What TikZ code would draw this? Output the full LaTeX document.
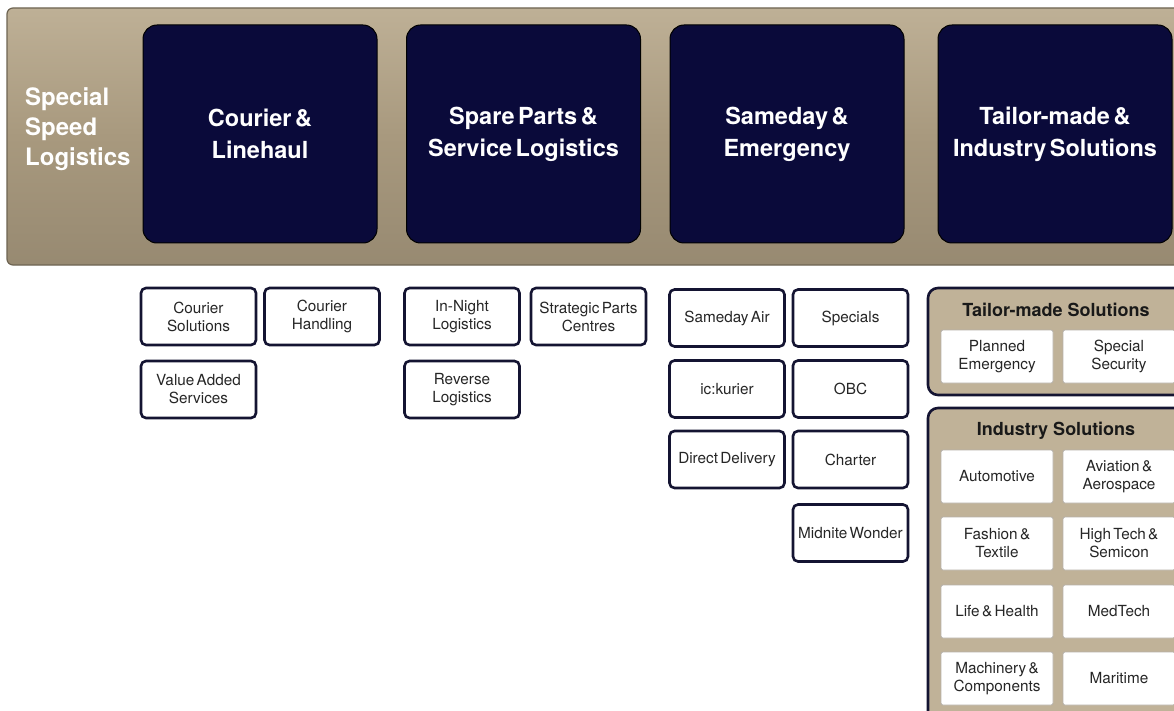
\documentclass[tikz,border=0pt]{standalone}
\usepackage{fontspec}
\setmainfont{TeX Gyre Heros}
\newfontfamily\tightfont[WordSpace=0.55]{TeX Gyre Heros}
\definecolor{tan}{RGB}{168,153,126}
\definecolor{tanlight}{RGB}{190,176,150}
\definecolor{tandark}{RGB}{110,100,82}
\definecolor{navy}{RGB}{10,10,58}
\definecolor{navyline}{RGB}{20,20,50}
\definecolor{grptan}{RGB}{192,178,152}
\begin{document}
\begin{tikzpicture}[x=1pt,y=-1pt,
  banner/.style={draw=tandark,line width=1.2pt,rounded corners=6pt,top color=tanlight,bottom color=tan!90!black,middle color=tan},
  bigbox/.style={draw=black,line width=1pt,fill=navy,rounded corners=14pt,minimum width=234pt,minimum height=218pt,
     text=white,font=\tightfont\bfseries\fontsize{23.5}{32}\selectfont,align=center,inner sep=0pt},
  smallbox/.style={draw=navyline,line width=2.6pt,fill=white,rounded corners=5pt,minimum width=115pt,minimum height=57pt,
     text=black!85,font=\tightfont\fontsize{15.3}{18}\selectfont,align=center,inner sep=0pt},
  grp/.style={draw=navyline,line width=2.6pt,fill=grptan,rounded corners=10pt},
  grphead/.style={text=black!90,font=\bfseries\fontsize{18}{20}\selectfont,inner sep=0pt},
  inbox/.style={draw=tandark!50,line width=0.8pt,fill=white,rounded corners=2pt,minimum width=112pt,minimum height=53pt,
     text=black!85,font=\tightfont\fontsize{15.3}{18}\selectfont,align=center,inner sep=0pt},
  bigtext/.style={text=white,font=\bfseries\fontsize{24}{30}\selectfont,align=left,inner sep=0pt}
]
\useasboundingbox (0,0) rectangle (1174,711);
\clip (0,0) rectangle (1174,711);
\fill[white] (0,0) rectangle (1174,711);

% banner
\draw[banner] (7,8) rectangle (1200,265);
\node[bigtext,anchor=west] (ssl) at (25,129) {Special\\Speed\\Logistics};

\node[bigbox] (cl) at (260,134) {Courier \&\\Linehaul};
\node[bigbox] (sp) at (523.5,134) {Spare Parts \&\\Service Logistics};
\node[bigbox] (se) at (787,134) {Sameday \&\\Emergency};
\node[bigbox] (ti) at (1055,134) {Tailor-made \&\\Industry Solutions};

% courier column
\node[smallbox] (cs) at (198.5,316.5) {Courier\\Solutions};
\node[smallbox] (ch) at (322,316.5) {Courier\\Handling};
\node[smallbox] (vas) at (198.5,389.5) {Value Added\\Services};

% spare parts column
\node[smallbox] (inl) at (462,316.5) {In-Night\\Logistics};
\node[smallbox] (spc) at (588.5,316.5) {Strategic Parts\\Centres};
\node[smallbox] (rl) at (462,389.5) {Reverse\\Logistics};

% sameday column
\node[smallbox] (sda) at (727,318) {Sameday Air};
\node[smallbox] (spe) at (850.5,318) {Specials};
\node[smallbox] (ick) at (727,389) {ic:kurier};
\node[smallbox] (obc) at (850.5,389) {OBC};
\node[smallbox] (dd) at (727,459.5) {Direct Delivery};
\node[smallbox] (cha) at (850.5,459.5) {Charter};
\node[smallbox] (mw) at (850.5,533) {Midnite Wonder};

% tailor-made group
\draw[grp] (928,288) rectangle (1186,395);
\node[grphead] (tmh) at (1056,310) {Tailor-made Solutions};
\node[inbox] (pe) at (997,356.5) {Planned\\Emergency};
\node[inbox] (ss) at (1119,356.5) {Special\\Security};

% industry group
\draw[grp] (928,408) rectangle (1186,740);
\node[grphead] (ish) at (1056,431) {Industry Solutions};
\node[inbox] (aut) at (997,476.5) {Automotive};
\node[inbox] (avi) at (1119,476.5) {Aviation \&\\Aerospace};
\node[inbox] (fas) at (997,543.5) {Fashion \&\\Textile};
\node[inbox] (hts) at (1119,543.5) {High Tech \&\\Semicon};
\node[inbox] (lh) at (997,611.5) {Life \& Health};
\node[inbox] (med) at (1119,611.5) {MedTech};
\node[inbox] (mac) at (997,678.5) {Machinery \&\\Components};
\node[inbox] (mar) at (1119,678.5) {Maritime};
\end{tikzpicture}
\end{document}
